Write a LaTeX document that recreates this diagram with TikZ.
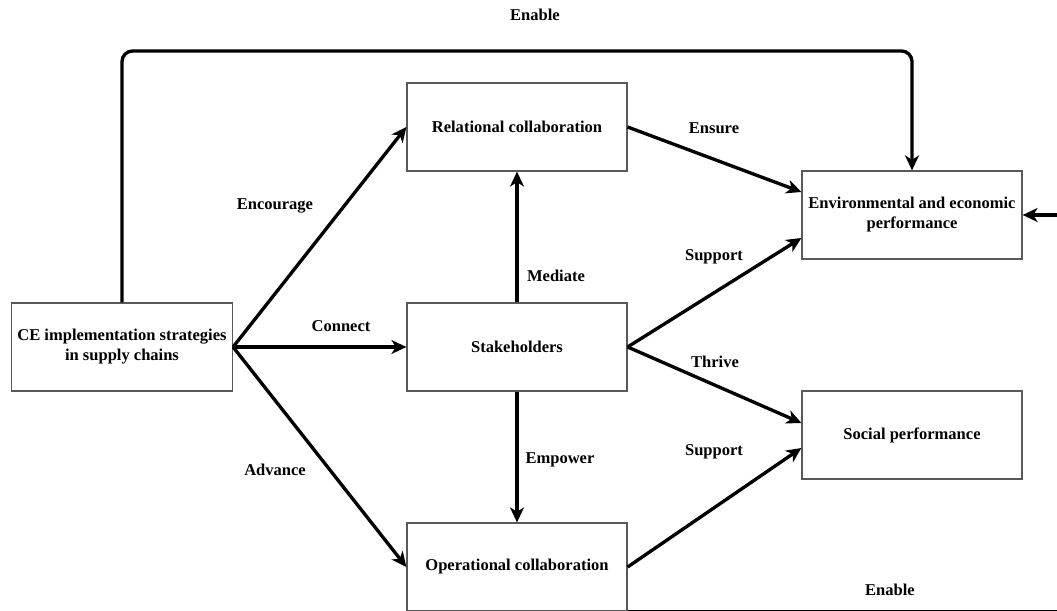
\documentclass[tikz,border=0pt]{standalone}
\usepackage{fontspec}
\setmainfont{Liberation Serif}
\usetikzlibrary{positioning,arrows.meta}
\begin{document}
\begin{tikzpicture}[node distance={44mm}, thick,
  font=\fontsize{9.4}{11.4}\selectfont\bfseries,
  main/.style = {draw=black!65, line width=0.7pt, rectangle, minimum width=44mm, minimum height=17.6mm, align=center, fill=white},
  arr/.style = {line width=1.9pt, -{Stealth[length=3mm, width=2.8mm, inset=0.9mm]}},
  lbl/.style = {inner sep=1pt}]
\useasboundingbox (-10.34,-5.28) rectangle (10.80,6.94);

\node[main] (stk) {Stakeholders};
\node[main] (ce) [left of=stk, node distance=79mm] {CE implementation strategies\\in supply chains};
\node[main] (rel) [above of=stk] {Relational collaboration};
\node[main] (op) [below of=stk] {Operational collaboration};
\node[main] (env) [right of=stk, node distance=79mm, yshift=26.4mm] {Environmental and economic\\performance};
\node[main] (soc) [right of=stk, node distance=79mm, yshift=-17.6mm] {Social performance};

\coordinate (topline) at (0,5.92);
\coordinate (rightline) at (11.2,0);

\draw[arr] (ce.east) -- (rel.west);
\draw[arr] (ce.east) -- (stk.west);
\draw[arr] (ce.east) -- (op.west);
\draw[arr] (stk.north) -- (rel.south);
\draw[arr] (stk.south) -- (op.north);
\draw[arr] (rel.east) -- ([yshift=4.6mm]env.west);
\draw[arr] (stk.east) -- ([yshift=-4.6mm]env.west);
\draw[arr] (stk.east) -- ([yshift=2.4mm]soc.west);
\draw[arr] (op.east) -- ([yshift=-2.6mm]soc.west);
\draw[arr, rounded corners=6pt] (ce.north) -- (ce.north |- topline) -| (env.north);
\draw[arr] (op.south east) -- (op.south east -| rightline) |- (env.east);

\node[lbl] (enabletop) at (0.36,6.64) {Enable};
\node[lbl] (encourage) at (-4.84,2.82) {Encourage};
\node[lbl] (connect) at (-3.52,0.42) {Connect};
\node[lbl] (advance) at (-4.84,-2.46) {Advance};
\node[lbl] (mediate) at (0.78,1.42) {Mediate};
\node[lbl] (empower) at (0.86,-2.26) {Empower};
\node[lbl] (ensure) at (3.94,4.38) {Ensure};
\node[lbl] (supportenv) at (3.94,1.80) {Support};
\node[lbl] (thrive) at (3.96,-0.30) {Thrive};
\node[lbl] (supportsoc) at (3.94,-2.10) {Support};
\node[lbl] (enablebottom) at (7.46,-4.86) {Enable};

\end{tikzpicture}
\end{document}
